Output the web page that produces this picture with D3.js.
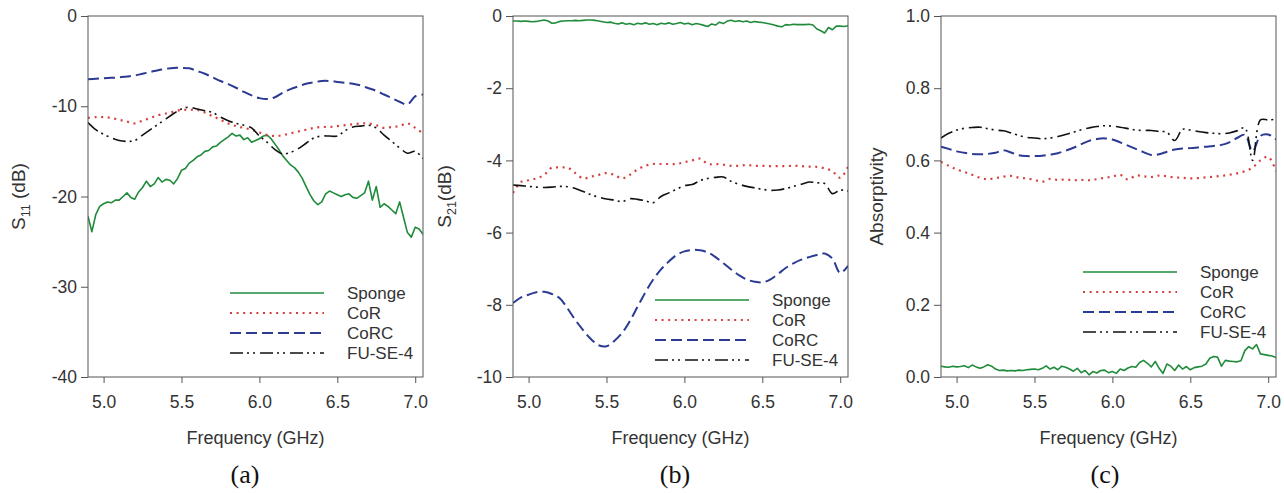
<!DOCTYPE html>
<html>
<head>
<meta charset="utf-8">
<script src="https://cdn.jsdelivr.net/npm/d3@7"></script>
<style>
  body { margin: 0; background: #fff; }
  text { font-family: "Liberation Sans", Arial, sans-serif; }
</style>
</head>
<body>
<svg id="chart" width="1284" height="493"></svg>
<script>
// frequency grids (GHz)
const freq = [4.90, 4.95, 5.00, 5.05, 5.10, 5.15, 5.20, 5.25, 5.30, 5.35,
              5.40, 5.45, 5.50, 5.55, 5.60, 5.65, 5.70, 5.75, 5.80, 5.85,
              5.90, 5.95, 6.00, 6.05, 6.10, 6.15, 6.20, 6.25, 6.30, 6.35,
              6.40, 6.45, 6.50, 6.55, 6.60, 6.65, 6.70, 6.75, 6.80, 6.85,
              6.90, 6.95, 7.00, 7.05];
const freqFine = [4.900, 4.925, 4.950, 4.975, 5.000, 5.025, 5.050, 5.075, 5.100, 5.125,
                  5.150, 5.175, 5.200, 5.225, 5.250, 5.275, 5.300, 5.325, 5.350, 5.375,
                  5.400, 5.425, 5.450, 5.475, 5.500, 5.525, 5.550, 5.575, 5.600, 5.625,
                  5.650, 5.675, 5.700, 5.725, 5.750, 5.775, 5.800, 5.825, 5.850, 5.875,
                  5.900, 5.925, 5.950, 5.975, 6.000, 6.025, 6.050, 6.075, 6.100, 6.125,
                  6.150, 6.175, 6.200, 6.225, 6.250, 6.275, 6.300, 6.325, 6.350, 6.375,
                  6.400, 6.425, 6.450, 6.475, 6.500, 6.525, 6.550, 6.575, 6.600, 6.625,
                  6.650, 6.675, 6.700, 6.725, 6.750, 6.775, 6.800, 6.825, 6.850, 6.875,
                  6.900, 6.925, 6.950, 6.975, 7.000, 7.025, 7.050];

const seriesNames = ["Sponge", "CoR", "CoRC", "FU-SE-4"];
const xTicks = [5.0, 5.5, 6.0, 6.5, 7.0];
const xTickLabels = ["5.0", "5.5", "6.0", "6.5", "7.0"];

// (a) S11 (dB)
const spongeA = [-22.2, -23.9, -22.0, -21.1, -20.8, -20.6, -20.7, -20.4, -20.4, -20.0,
                 -19.6, -20.1, -20.3, -19.5, -19.0, -18.3, -18.9, -18.6, -17.9, -18.4,
                 -18.1, -18.2, -18.6, -18.0, -17.1, -16.9, -16.3, -16.0, -15.6, -15.4,
                 -15.0, -14.9, -14.5, -14.4, -14.0, -13.7, -13.4, -13.0, -13.3, -13.2,
                 -13.7, -13.5, -14.0, -13.8, -13.6, -13.3, -13.2, -13.6, -14.2, -14.8,
                 -15.5, -16.0, -16.5, -16.8, -17.3, -18.0, -18.9, -19.8, -20.5, -20.9,
                 -20.6, -19.7, -19.4, -19.6, -19.8, -20.0, -19.8, -19.7, -20.1, -20.2,
                 -19.9, -19.6, -18.3, -20.4, -18.9, -21.2, -20.8, -21.1, -21.5, -21.9,
                 -20.6, -22.3, -24.0, -24.5, -23.4, -23.6, -24.2];
const corA = [-11.3, -11.2, -11.2, -11.3, -11.5, -11.7, -11.9, -11.6, -11.3, -11.0,
              -10.8, -10.6, -10.4, -10.4, -10.4, -10.7, -11.1, -11.5, -11.9, -12.2,
              -12.4, -12.6, -12.9, -13.2, -13.3, -13.2, -13.0, -12.8, -12.6, -12.4,
              -12.3, -12.3, -12.2, -12.1, -12.0, -11.9, -11.9, -12.1, -12.4, -12.3,
              -12.2, -11.9, -12.4, -13.0];
const corcA = [-7.0, -6.95, -6.9, -6.85, -6.8, -6.7, -6.6, -6.4, -6.2, -6.0,
               -5.85, -5.75, -5.75, -5.8, -6.1, -6.4, -6.8, -7.2, -7.55, -7.95,
               -8.4, -8.8, -9.1, -9.2, -9.0, -8.5, -8.1, -7.8, -7.5, -7.35,
               -7.2, -7.2, -7.3, -7.4, -7.5, -7.7, -8.0, -8.3, -8.7, -9.1,
               -9.5, -9.8, -8.9, -8.7];
const fuA = [-11.8, -12.6, -13.1, -13.5, -13.8, -13.9, -13.8, -13.2, -12.6, -12.0,
             -11.4, -10.8, -10.3, -10.1, -10.3, -10.5, -10.7, -11.2, -11.6, -11.9,
             -12.1, -12.4, -13.3, -14.0, -14.8, -15.3, -15.1, -14.7, -14.1, -13.5,
             -13.3, -13.3, -13.3, -12.7, -12.3, -12.2, -12.1, -12.4, -13.2, -13.9,
             -14.6, -15.2, -15.0, -15.8];
const yTicksA = [0, -10, -20, -30, -40];
const yTickLabelsA = ["0", "-10", "-20", "-30", "-40"];

// (b) S21 (dB)
const spongeB = [-0.14, -0.14, -0.15, -0.14, -0.15, -0.16, -0.15, -0.13, -0.11, -0.14,
                 -0.20, -0.19, -0.15, -0.14, -0.13, -0.13, -0.12, -0.13, -0.12, -0.11,
                 -0.11, -0.12, -0.14, -0.16, -0.18, -0.17, -0.20, -0.22, -0.19, -0.23,
                 -0.21, -0.24, -0.20, -0.22, -0.19, -0.23, -0.21, -0.24, -0.20, -0.22,
                 -0.19, -0.23, -0.21, -0.18, -0.22, -0.20, -0.24, -0.21, -0.23, -0.26,
                 -0.29, -0.22, -0.25, -0.17, -0.21, -0.14, -0.12, -0.15, -0.13, -0.16,
                 -0.14, -0.18, -0.15, -0.17, -0.18, -0.20, -0.22, -0.25, -0.28, -0.30,
                 -0.24, -0.25, -0.23, -0.24, -0.24, -0.24, -0.23, -0.25, -0.36, -0.41,
                 -0.47, -0.32, -0.38, -0.28, -0.28, -0.29, -0.27];
const corB = [-4.9, -4.6, -4.55, -4.5, -4.4, -4.2, -4.2, -4.2, -4.35, -4.5,
              -4.45, -4.4, -4.35, -4.4, -4.5, -4.4, -4.25, -4.15, -4.1, -4.1,
              -4.1, -4.1, -4.05, -4.0, -3.95, -4.1, -4.1, -4.12, -4.15, -4.15,
              -4.13, -4.15, -4.15, -4.16, -4.16, -4.16, -4.15, -4.16, -4.17, -4.18,
              -4.22, -4.3, -4.48, -4.18];
const corcB = [-7.95, -7.8, -7.72, -7.65, -7.64, -7.7, -7.82, -8.1, -8.42, -8.7,
               -8.95, -9.12, -9.15, -9.0, -8.78, -8.45, -8.05, -7.65, -7.3, -7.02,
               -6.8, -6.62, -6.52, -6.48, -6.49, -6.55, -6.68, -6.85, -7.02, -7.18,
               -7.3, -7.36, -7.38, -7.3, -7.15, -6.98, -6.85, -6.75, -6.68, -6.62,
               -6.58, -6.72, -7.12, -6.92];
const fuB = [-4.68, -4.7, -4.72, -4.74, -4.75, -4.74, -4.72, -4.73, -4.78, -4.86,
             -4.95, -5.02, -5.07, -5.1, -5.14, -5.06, -5.08, -5.12, -5.17, -5.0,
             -4.9, -4.8, -4.7, -4.67, -4.56, -4.5, -4.47, -4.46, -4.58, -4.66,
             -4.72, -4.76, -4.8, -4.83, -4.82, -4.78, -4.72, -4.66, -4.6, -4.62,
             -4.64, -4.92, -4.82, -4.85];
const yTicksB = [0, -2, -4, -6, -8, -10];
const yTickLabelsB = ["0", "-2", "-4", "-6", "-8", "-10"];

// (c) Absorptivity
const spongeC = [0.030, 0.028, 0.027, 0.030, 0.028, 0.029, 0.031, 0.026, 0.033, 0.028,
                 0.024, 0.028, 0.034, 0.030, 0.022, 0.018, 0.019, 0.017, 0.018, 0.017,
                 0.019, 0.018, 0.020, 0.021, 0.022, 0.020, 0.024, 0.031, 0.022, 0.027,
                 0.020, 0.030, 0.027, 0.022, 0.016, 0.024, 0.012, 0.018, 0.006, 0.015,
                 0.011, 0.018, 0.019, 0.012, 0.015, 0.010, 0.022, 0.018, 0.025, 0.029,
                 0.027, 0.040, 0.046, 0.038, 0.028, 0.043, 0.024, 0.010, 0.036, 0.030,
                 0.018, 0.033, 0.022, 0.029, 0.020, 0.026, 0.028, 0.030, 0.036, 0.052,
                 0.057, 0.055, 0.030, 0.046, 0.044, 0.043, 0.042, 0.045, 0.073, 0.084,
                 0.078, 0.090, 0.064, 0.062, 0.060, 0.058, 0.054];
const corC = [0.596, 0.585, 0.575, 0.568, 0.560, 0.552, 0.548, 0.551, 0.555, 0.557,
              0.552, 0.550, 0.546, 0.541, 0.549, 0.546, 0.547, 0.545, 0.546, 0.545,
              0.548, 0.552, 0.555, 0.560, 0.547, 0.558, 0.556, 0.554, 0.558, 0.556,
              0.553, 0.552, 0.550, 0.551, 0.553, 0.555, 0.557, 0.560, 0.564, 0.570,
              0.580, 0.600, 0.610, 0.570];
const corcC = [0.638, 0.632, 0.625, 0.621, 0.618, 0.617, 0.618, 0.621, 0.628, 0.622,
               0.614, 0.612, 0.612, 0.613, 0.616, 0.620, 0.627, 0.635, 0.645, 0.654,
               0.659, 0.661, 0.658, 0.650, 0.641, 0.632, 0.623, 0.615, 0.617, 0.624,
               0.630, 0.633, 0.634, 0.636, 0.638, 0.640, 0.643, 0.650, 0.662, 0.671,
               0.625, 0.668, 0.672, 0.658];
const fuC = [0.662, 0.675, 0.684, 0.689, 0.691, 0.692, 0.688, 0.684, 0.682, 0.676,
             0.669, 0.664, 0.662, 0.660, 0.662, 0.666, 0.672, 0.678, 0.685, 0.690,
             0.694, 0.696, 0.695, 0.692, 0.688, 0.684, 0.683, 0.683, 0.680, 0.678,
             0.655, 0.686, 0.684, 0.680, 0.677, 0.675, 0.674, 0.676, 0.682, 0.690,
             0.600, 0.712, 0.712, 0.714];
const yTicksC = [0.0, 0.2, 0.4, 0.6, 0.8, 1.0];
const yTickLabelsC = ["0.0", "0.2", "0.4", "0.6", "0.8", "1.0"];

// line styles
const styles = [
    { color: "#1f8b3b", width: 1.6, dash: null, smooth: false },
    { color: "#d4403f", width: 2.2, dash: "2,4.6", smooth: true },
    { color: "#2b3a92", width: 2, dash: "11,5", smooth: true },
    { color: "#111111", width: 1.6, dash: "13,4,2,4,2,5", smooth: true }
];

const svg = d3.select("#chart");
const W = 335;
const H = 361;
const plotTop = 16;

function drawPanel(p) {
    const g = svg.append('g')
        .attr('transform', `translate(${p.left}, ${plotTop})`);

    const xScale = d3.scaleLinear().domain([4.9, 7.05]).range([0, W]);
    const yScale = d3.scaleLinear().domain(p.yDomain).range([H, 0]);

    g.append('clipPath')
        .attr('id', 'clip-' + p.id)
        .append('rect')
        .attr('width', W)
        .attr('height', H);

    const plot = g.append('g').attr('clip-path', `url(#clip-${p.id})`);

    p.series.forEach((s, i) => {
        const st = styles[i];
        const xs = i === 0 ? freqFine : freq;
        const line = d3.line()
            .x((d, j) => xScale(xs[j]))
            .y(d => yScale(d))
            .curve(st.smooth ? d3.curveCatmullRom.alpha(0.5) : d3.curveLinear);
        plot.append('path')
            .datum(s)
            .attr('d', line)
            .attr('fill', 'none')
            .attr('stroke', st.color)
            .attr('stroke-width', st.width)
            .attr('stroke-dasharray', st.dash)
            .attr('stroke-linejoin', 'round');
    });

    // frame
    g.append('rect')
        .attr('width', W)
        .attr('height', H)
        .attr('fill', 'none')
        .attr('stroke', '#555')
        .attr('stroke-width', 1);

    const xAxis = d3.axisBottom(xScale)
        .tickValues(xTicks)
        .tickFormat((d, i) => xTickLabels[i])
        .tickSize(6)
        .tickPadding(13);

    const xAxisDraw = g.append('g')
        .attr('class', 'x axis')
        .attr('transform', `translate(0, ${H})`)
        .call(xAxis);

    const yAxis = d3.axisLeft(yScale)
        .tickValues(p.yTicks)
        .tickFormat((d, i) => p.yTickLabels[i])
        .tickSize(7)
        .tickPadding(4);

    const yAxisDraw = g.append('g')
        .attr('class', 'y axis')
        .call(yAxis);

    [xAxisDraw, yAxisDraw].forEach(a => {
        a.select('.domain').remove();
        a.selectAll('line').attr('stroke', '#555');
        a.selectAll('text')
            .attr('fill', '#333')
            .style('font-size', '17.5px')
            .style('font-family', '"Liberation Sans", Arial, sans-serif');
    });

    // legend
    seriesNames.forEach((name, i) => {
        const st = styles[i];
        const ly = p.legendTop + i * 20;
        g.append('line')
            .attr('x1', 142).attr('x2', 236)
            .attr('y1', ly).attr('y2', ly)
            .attr('stroke', st.color)
            .attr('stroke-width', st.width)
            .attr('stroke-dasharray', st.dash);
        g.append('text')
            .attr('x', 259)
            .attr('y', ly)
            .attr('dy', '0.35em')
            .attr('fill', '#333')
            .style('font-size', '17px')
            .text(name);
    });

    // x title
    g.append('text')
        .attr('x', W / 2)
        .attr('y', 428)
        .attr('text-anchor', 'middle')
        .attr('fill', '#333')
        .style('font-size', '18px')
        .text("Frequency (GHz)");

    // y title
    const yt = g.append('text')
        .attr('transform', `translate(${p.titleX}, ${H / 2}) rotate(-90)`)
        .attr('text-anchor', 'middle')
        .attr('fill', '#333')
        .style('font-size', '19px');
    yt.append('tspan').text(p.yTitle[0]);
    if (p.yTitle[1]) {
        yt.append('tspan')
            .attr('dy', 5)
            .style('font-size', '12.5px')
            .text(p.yTitle[1]);
        yt.append('tspan')
            .attr('dy', -5)
            .text(p.yTitle[2]);
    }

    // panel letter
    svg.append('text')
        .attr('x', p.letterX)
        .attr('y', 483)
        .attr('text-anchor', 'middle')
        .attr('fill', '#111')
        .style('font-family', '"Liberation Serif", "Times New Roman", serif')
        .style('font-size', '26px')
        .text(p.letter);
}

drawPanel({
    id: 'a', left: 88, yDomain: [-40, 0],
    yTicks: yTicksA, yTickLabels: yTickLabelsA,
    series: [spongeA, corA, corcA, fuA],
    legendTop: 277, titleX: -63,
    yTitle: ["S", "11", " (dB)"],
    letter: "(a)", letterX: 245
});

drawPanel({
    id: 'b', left: 513, yDomain: [-10, 0],
    yTicks: yTicksB, yTickLabels: yTickLabelsB,
    series: [spongeB, corB, corcB, fuB],
    legendTop: 284, titleX: -62,
    yTitle: ["S", "21", "(dB)"],
    letter: "(b)", letterX: 675
});

drawPanel({
    id: 'c', left: 941, yDomain: [0, 1],
    yTicks: yTicksC, yTickLabels: yTickLabelsC,
    series: [spongeC, corC, corcC, fuC],
    legendTop: 256, titleX: -58,
    yTitle: ["Absorptivity"],
    letter: "(c)", letterX: 1105
});
</script>
</body>
</html>
